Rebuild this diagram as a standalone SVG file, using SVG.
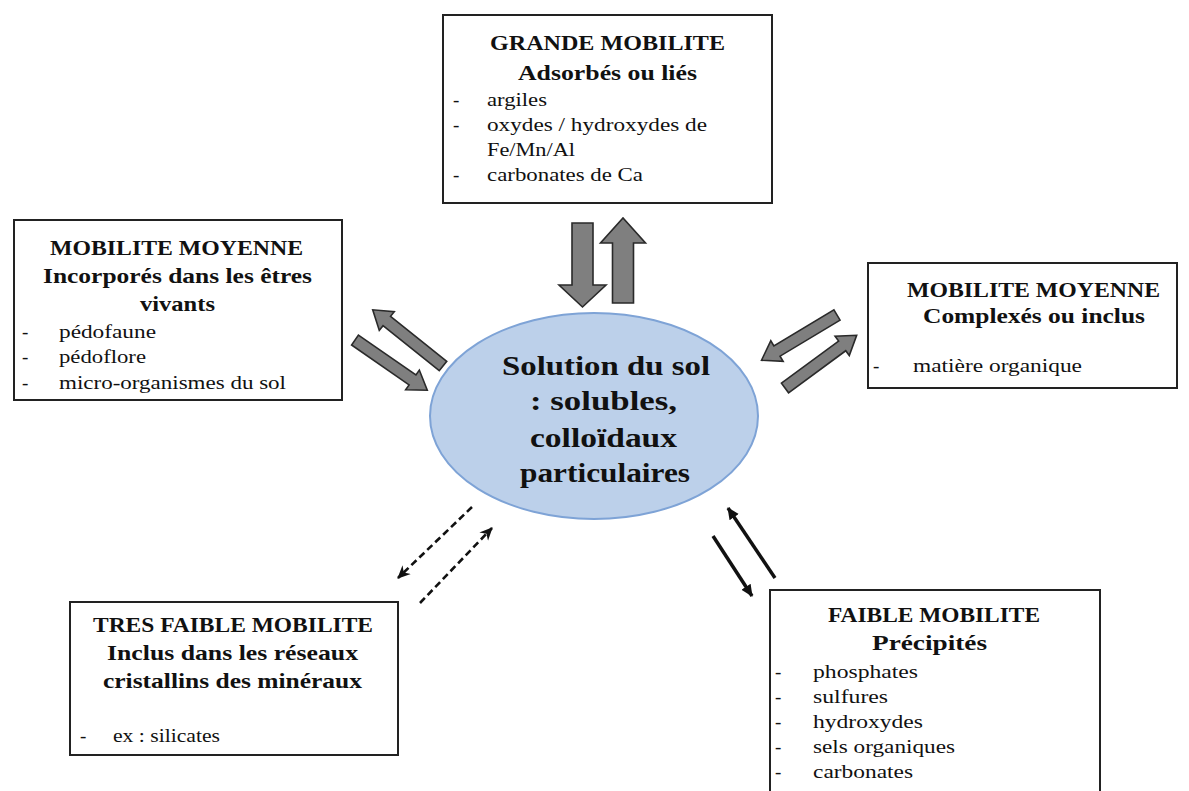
<svg xmlns="http://www.w3.org/2000/svg" width="1189" height="791" viewBox="0 0 1189 791">
<style>
.box{fill:#fff;stroke:#222;stroke-width:2}
.h{font-family:"Liberation Serif",serif;font-weight:bold;font-size:21px;fill:#111}
.t{font-family:"Liberation Serif",serif;font-size:19px;fill:#111}
.c{font-family:"Liberation Serif",serif;font-weight:bold;font-size:28px;fill:#111}
.fat{fill:#7f7f7f;stroke:#2a2a2a;stroke-width:1.6;stroke-linejoin:miter}
.dash{fill:none;stroke:#111;stroke-width:2.6;stroke-dasharray:7 4}
.solid{fill:none;stroke:#111;stroke-width:3.5}
</style>
<defs>
<marker id="ah" markerUnits="userSpaceOnUse" markerWidth="14" markerHeight="14" refX="12" refY="7" orient="auto">
<path d="M0,1 L13,7 L0,13 L4,7 Z" fill="#111"/>
</marker>
<marker id="ah2" markerUnits="userSpaceOnUse" markerWidth="14" markerHeight="14" refX="11" refY="7" orient="auto">
<path d="M0,1.5 L12,7 L0,12.5 Z" fill="#111"/>
</marker>
</defs>
<rect width="1189" height="791" fill="#fff"/>

<g id="center">
<ellipse cx="594" cy="416" rx="164" ry="103" fill="#bcd0ea" stroke="#7ea3d6" stroke-width="2"/>
<text class="c" x="502" y="375" textLength="208" lengthAdjust="spacingAndGlyphs">Solution du sol</text>
<text class="c" x="530" y="410" textLength="147" lengthAdjust="spacingAndGlyphs">: solubles,</text>
<text class="c" x="530" y="447" textLength="147" lengthAdjust="spacingAndGlyphs">colloïdaux</text>
<text class="c" x="520" y="482" textLength="170" lengthAdjust="spacingAndGlyphs">particulaires</text>
</g>

<g id="top">
<rect class="box" x="443" y="15" width="329" height="188"/>
<text class="h" x="490" y="50" textLength="235" lengthAdjust="spacingAndGlyphs">GRANDE MOBILITE</text>
<text class="h" x="518" y="80" textLength="179" lengthAdjust="spacingAndGlyphs">Adsorbés ou liés</text>
<text class="t" x="453" y="106">-</text>
<text class="t" x="487" y="106" textLength="60" lengthAdjust="spacingAndGlyphs">argiles</text>
<text class="t" x="453" y="131">-</text>
<text class="t" x="487" y="131" textLength="220" lengthAdjust="spacingAndGlyphs">oxydes / hydroxydes de</text>
<text class="t" x="487" y="156" textLength="88" lengthAdjust="spacingAndGlyphs">Fe/Mn/Al</text>
<text class="t" x="453" y="181">-</text>
<text class="t" x="487" y="181" textLength="156" lengthAdjust="spacingAndGlyphs">carbonates de Ca</text>
</g>

<g id="left">
<rect class="box" x="14" y="220" width="328" height="180"/>
<text class="h" x="50" y="255" textLength="253" lengthAdjust="spacingAndGlyphs">MOBILITE MOYENNE</text>
<text class="h" x="43" y="283" textLength="269" lengthAdjust="spacingAndGlyphs">Incorporés dans les êtres</text>
<text class="h" x="140" y="311" textLength="75" lengthAdjust="spacingAndGlyphs">vivants</text>
<text class="t" x="22" y="338">-</text>
<text class="t" x="59" y="338" textLength="97" lengthAdjust="spacingAndGlyphs">pédofaune</text>
<text class="t" x="22" y="363">-</text>
<text class="t" x="59" y="363" textLength="87" lengthAdjust="spacingAndGlyphs">pédoflore</text>
<text class="t" x="22" y="389">-</text>
<text class="t" x="59" y="389" textLength="227" lengthAdjust="spacingAndGlyphs">micro-organismes du sol</text>
</g>

<g id="right">
<rect class="box" x="868" y="263" width="309" height="125"/>
<text class="h" x="907" y="297" textLength="253" lengthAdjust="spacingAndGlyphs">MOBILITE MOYENNE</text>
<text class="h" x="923" y="323" textLength="222" lengthAdjust="spacingAndGlyphs">Complexés ou inclus</text>
<text class="t" x="873" y="372">-</text>
<text class="t" x="913" y="372" textLength="169" lengthAdjust="spacingAndGlyphs">matière organique</text>
</g>

<g id="bottomleft">
<rect class="box" x="70" y="602" width="328" height="153"/>
<text class="h" x="93" y="632" textLength="280" lengthAdjust="spacingAndGlyphs">TRES FAIBLE MOBILITE</text>
<text class="h" x="107" y="660" textLength="251" lengthAdjust="spacingAndGlyphs">Inclus dans les réseaux</text>
<text class="h" x="103" y="688" textLength="259" lengthAdjust="spacingAndGlyphs">cristallins des minéraux</text>
<text class="t" x="80" y="742">-</text>
<text class="t" x="113" y="742" textLength="107" lengthAdjust="spacingAndGlyphs">ex : silicates</text>
</g>

<g id="bottomright">
<rect class="box" x="770" y="590" width="330" height="220"/>
<text class="h" x="828" y="622" textLength="212" lengthAdjust="spacingAndGlyphs">FAIBLE MOBILITE</text>
<text class="h" x="872" y="650" textLength="115" lengthAdjust="spacingAndGlyphs">Précipités</text>
<text class="t" x="775" y="678">-</text>
<text class="t" x="813" y="678" textLength="105" lengthAdjust="spacingAndGlyphs">phosphates</text>
<text class="t" x="775" y="703">-</text>
<text class="t" x="813" y="703" textLength="75" lengthAdjust="spacingAndGlyphs">sulfures</text>
<text class="t" x="775" y="728">-</text>
<text class="t" x="813" y="728" textLength="110" lengthAdjust="spacingAndGlyphs">hydroxydes</text>
<text class="t" x="775" y="753">-</text>
<text class="t" x="813" y="753" textLength="142" lengthAdjust="spacingAndGlyphs">sels organiques</text>
<text class="t" x="775" y="778">-</text>
<text class="t" x="813" y="778" textLength="100" lengthAdjust="spacingAndGlyphs">carbonates</text>
</g>

<g id="connectors">
<path class="fat" transform="translate(582.5,223) rotate(90)" d="M0,-10.5 L62,-10.5 L62,-23.5 L84,0 L62,23.5 L62,10.5 L0,10.5 Z"/>
<path class="fat" transform="translate(623,303) rotate(-90)" d="M0,-10.5 L60,-10.5 L60,-22.5 L85,0 L60,22.5 L60,10.5 L0,10.5 Z"/>
<path class="fat" transform="translate(443,366) rotate(-141.34)" d="M0,-6 L72,-6 L72,-12 L90,0 L72,12 L72,6 L0,6 Z"/>
<path class="fat" transform="translate(355,340) rotate(34.78)" d="M0,-6 L70,-6 L70,-12 L88,0 L70,12 L70,6 L0,6 Z"/>
<path class="fat" transform="translate(837,315) rotate(149.04)" d="M0,-6 L70,-6 L70,-12 L88,0 L70,12 L70,6 L0,6 Z"/>
<path class="fat" transform="translate(785,388) rotate(-36.36)" d="M0,-6 L71,-6 L71,-12 L89,0 L71,12 L71,6 L0,6 Z"/>
<line class="dash" x1="472" y1="507" x2="398" y2="578" marker-end="url(#ah)"/>
<line class="dash" x1="420" y1="603" x2="492" y2="528" marker-end="url(#ah)"/>
<line class="solid" x1="713" y1="536" x2="752" y2="596" marker-end="url(#ah2)"/>
<line class="solid" x1="775" y1="578" x2="728" y2="508" marker-end="url(#ah2)"/>
</g>
</svg>
